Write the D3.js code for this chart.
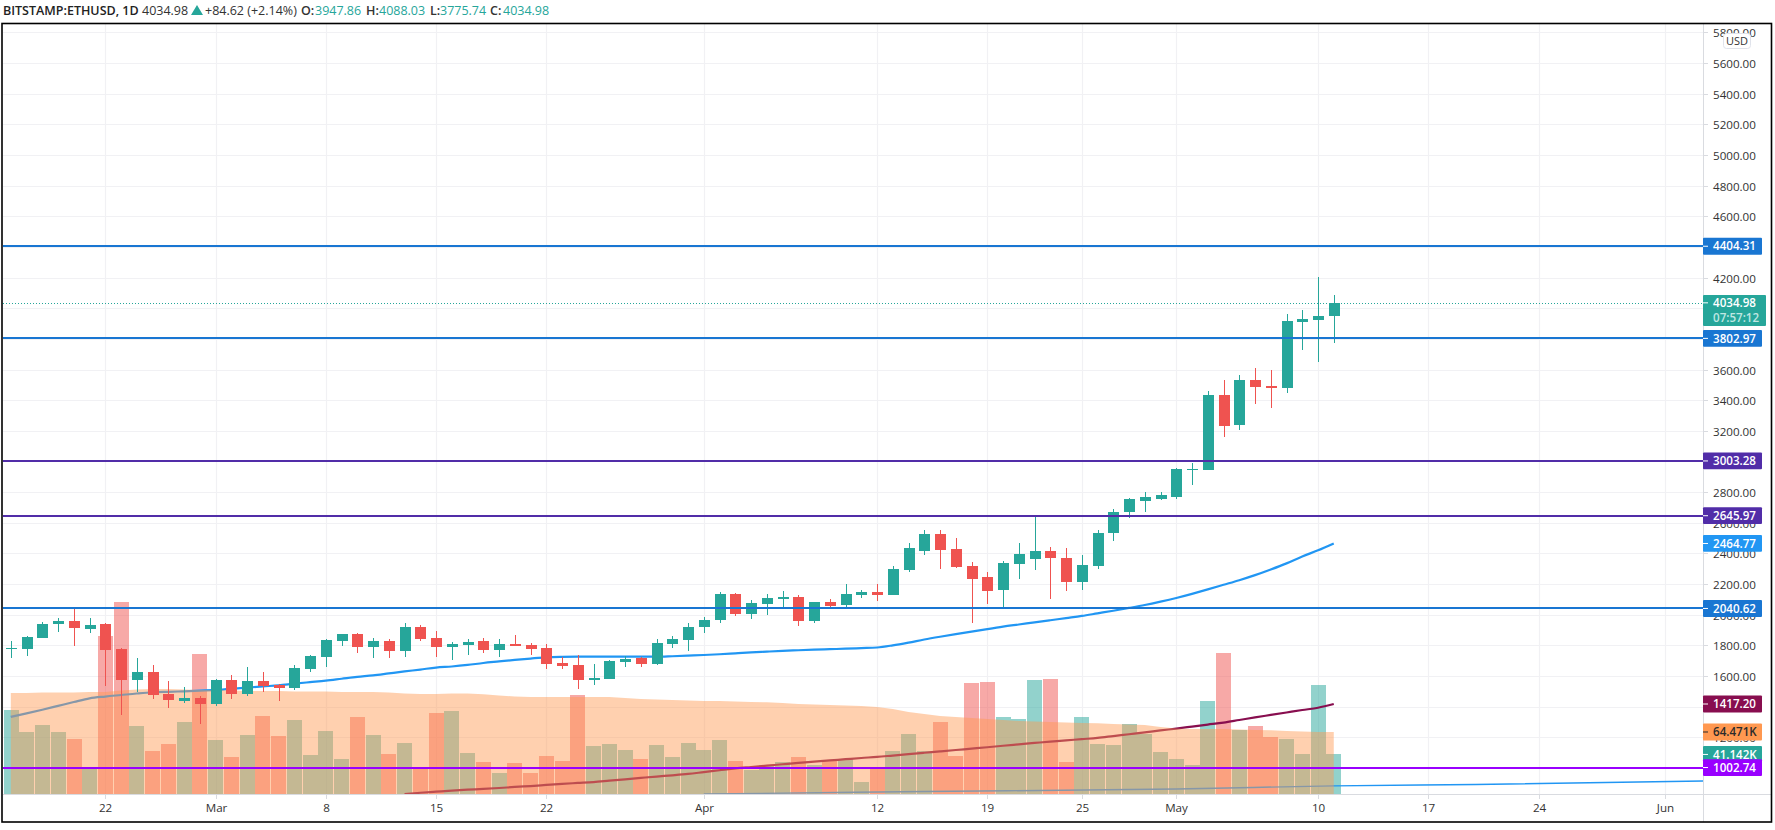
<!DOCTYPE html>
<html><head><meta charset="utf-8">
<script src="https://cdnjs.cloudflare.com/ajax/libs/d3/7.8.5/d3.min.js"></script>
<style>html,body{margin:0;padding:0;background:#fff;overflow:hidden}svg{display:block}text{font-family:"Open Sans",Roboto,sans-serif}</style>
</head><body><svg id="c" width="1775" height="830"></svg>
<script>
const firstDay = "2021-02-16";
const opens = [1778,1776,1848,1939,1959,1907,1939,1776,1574,1626,1483,1437,1457,1417,1574,1483,1568,1541,1522,1646,1724,1829,1874,1789,1829,1763,1920,1848,
1789,1802,1829,1770,1809,1802,1783,1685,1672,1574,1581,1692,1718,1678,1809,1835,1920,1966,2135,2005,2070,2103,2116,1959,2083,2063,2129,2148,2129,
2292,2414,2525,2429,2318,2246,2161,2331,2362,2414,2370,2213,2318,2532,2672,2745,2755,2768,2948,2944,3434,3238,3532,3492,3479,3910,3923,3947.86];
const closes = [1783,1855,1939,1959,1913,1933,1770,1574,1626,1476,1444,1457,1417,1574,1483,1568,1535,1522,1652,1731,1835,1874,1789,1829,1763,1920,1842,1789,
1809,1822,1770,1809,1796,1776,1678,1665,1574,1587,1698,1711,1678,1815,1842,1920,1966,2135,2005,2077,2109,2116,1959,2083,2057,2135,2148,2129,2298,
2436,2525,2421,2311,2233,2155,2337,2399,2414,2370,2213,2324,2532,2672,2754,2768,2781,2951,2953,3434,3231,3532,3486,3479,3917,3930,3949,4034.98];
const highs = [1829,1861,1953,1979,2044,1979,1945,1783,1718,1672,1568,1528,1470,1580,1607,1659,1626,1548,1672,1737,1842,1876,1881,1848,1842,1946,1933,1894,
1822,1842,1848,1842,1868,1815,1809,1724,1737,1678,1705,1731,1724,1842,1861,1946,1985,2148,2142,2096,2135,2155,2129,2083,2103,2200,2161,2200,2318,
2466,2554,2554,2503,2344,2279,2350,2466,2636,2444,2436,2392,2554,2687,2761,2801,2801,2957,2990,3460,3532,3564,3610,3597,3962,3988,4204,4088.03];
const lows = [1718,1731,1848,1887,1796,1881,1535,1346,1496,1450,1391,1424,1287,1404,1450,1470,1496,1437,1509,1626,1659,1796,1750,1718,1718,1724,1829,1724,
1705,1737,1750,1724,1796,1737,1646,1646,1515,1541,1581,1659,1659,1672,1783,1763,1881,1946,1992,1972,1998,2050,1926,1946,2044,2044,2109,2090,2129,
2279,2392,2298,2305,1946,2070,2050,2233,2292,2103,2155,2161,2298,2480,2628,2672,2749,2755,2846,2944,3160,3205,3375,3349,3447,3727,3649,3775.74];
const volumesK = [87.4,64.5,71.8,64.5,57.2,26,164.3,199.7,70.7,44.7,52,74.9,145.6,56.2,38.5,61.4,81.1,60.3,77,40.6,65.5,36.4,80.1,61.4,41.6,53,27,84.2,86.3,42.6,
33.3,21.8,32.2,21.8,39.5,34.3,103,49.9,52,45.8,36.4,51,38.5,53,45.8,56.2,34.3,25,30.2,33.3,38.5,30.2,34.3,36.4,12.5,27,44.7,62.4,44.7,74.9,
39.5,115.4,116.5,80.1,78,118.6,119.6,33.3,80.1,52,51,72.8,62.4,43.7,36.4,30.2,96.7,146.6,66.6,70.7,59.3,57.2,41.6,113.4,41.142];
const volumeAvgK = [105,105,105.6,105.6,105.6,106,106,107.6,108.7,109.2,109.2,108.7,108.2,108.2,107.6,107.1,107.1,107.1,106.6,106.6,
106.6,106,106,106,105.6,104.5,104,104,104.5,104.5,103.7,102.4,101.4,100.9,100.9,100.9,100.9,100.9,100.9,99.8,
98.8,98.3,97.8,97.2,96.7,96.7,96.2,95.7,95.4,94.6,93.6,93.1,92.6,92,91.5,90.5,88.4,85.3,83.2,81.1,
80.1,79,78,77,75.9,75.4,74.9,74.4,73.8,73.5,72.8,72.3,71.8,69.7,68.1,67.6,67.6,67.6,67.1,66.6,66.2,65.5,65,64.5,64.471];
const blueAvg = [1333,1356,1380,1405,1430,1454,1466,1476,1486,1494,1497,1500,1504,1509,1516,1524,1532,1539,1550,1560,1570,1582,1594,1604,1617,1630,1642,1655,
1662,1672,1685,1695,1705,1714,1722,1725,1726,1726,1726,1726,1726,1726,1729,1733,1737,1742,1748,1754,1759,1764,1768,1772,1775,1778,1782,1786,1800,
1818,1838,1856,1873,1889,1906,1922,1936,1950,1964,1978,1992,2009,2026,2044,2063,2085,2109,2136,2165,2195,2225,2258,2295,2335,2380,2420,2464.77];
const maroonStart = 25;
const maroonAvg = [830,838,845,852,858,863,869,876,882,889,896,902,908,917,926,935,944,952,961,973,985,997,1006,1015,1024,1033,1041,1049,1057,1065,1072,1081,1090,1099,1108,1117,1126,1135,1145,1154,1163,1172,1180,1188,1196,1208,1220,1232,1245,1257,1270,1283,1296,1313,1330,1346,1362,1378,1393,1417.2];
const lightAvgDays = ["2021-04-01","2021-04-15","2021-05-01","2021-05-11","2021-05-20","2021-06-08"];
const lightAvg = [830,846,863,883,892,922];
const levelValues = [4404.31,3802.97,3003.28,2645.97,2040.62,1002.74];
const levelColors = ["#1976d2","#1976d2","#512da8","#512da8","#1976d2","#9900ff"];
const priceTicks = [5800,5600,5400,5200,5000,4800,4600,4400,4200,4000,3800,3600,3400,3200,3000,2800,2600,2400,2200,2000,1800,1600,1400,1200,1000];
const coveredPriceLabels = [4400,4000,3800,3000,1400,1000];
const timeTickDays = ["2021-02-22","2021-03-01","2021-03-08","2021-03-15","2021-03-22","2021-04-01","2021-04-12","2021-04-19","2021-04-25","2021-05-01","2021-05-10","2021-05-17","2021-05-24","2021-06-01"];
const timeTickLabels = ["22","Mar","8","15","22","Apr","12","19","25","May","10","17","24","Jun"];

const UP="#26a69a", DOWN="#ef5350", GRID="#f1f1f4", AXIS="#d9dbe0", TXT="#333";
const L=3,R=1703,T=24,B=794;
const parse=d3.utcParse("%Y-%m-%d");
const days=opens.map((_,i)=>d3.utcDay.offset(parse(firstDay),i));
const x=d3.scaleUtc().domain([parse("2021-02-22"),parse("2021-06-01")]).range([105.3,1664.5]);
const y=d3.scaleLinear().domain([1600,5600]).range([676,63]);
const v=d3.scaleLinear().domain([0,100]).range([B,B-96.17]);
const svg=d3.select("#c");
svg.append("defs").append("clipPath").attr("id","pane").append("rect").attr("x",L).attr("y",T).attr("width",R-L).attr("height",B-T);

// grid
svg.append("g").selectAll("line").data(priceTicks).join("line")
 .attr("x1",L).attr("x2",R).attr("y1",d=>Math.round(y(d))+.5).attr("y2",d=>Math.round(y(d))+.5).attr("stroke",GRID).attr("stroke-width",1.2);
svg.append("g").selectAll("line").data(timeTickDays).join("line")
 .attr("x1",d=>Math.round(x(parse(d)))+.5).attr("x2",d=>Math.round(x(parse(d)))+.5).attr("y1",T).attr("y2",B).attr("stroke",GRID).attr("stroke-width",1.2);

const pane=svg.append("g").attr("clip-path","url(#pane)");
// volume
pane.append("g").selectAll("rect").data(volumesK).join("rect")
 .attr("x",(d,i)=>Math.round(x(days[i])-7.3)).attr("width",14.6).attr("y",d=>v(d)).attr("height",d=>B-v(d))
 .attr("fill",(d,i)=>closes[i]>=opens[i]?UP:DOWN).attr("fill-opacity",.5).attr("shape-rendering","crispEdges");
// averages
const lineGen=d3.line().x(d=>x(d[0])).y(d=>y(d[1])).curve(d3.curveMonotoneX);
pane.append("path").attr("d",lineGen(lightAvg.map((p,i)=>[parse(lightAvgDays[i]),p]))).attr("fill","none").attr("stroke","#2196f3").attr("stroke-width",1.4);
pane.append("path").attr("d",lineGen(maroonAvg.map((p,i)=>[days[i+maroonStart],p]))).attr("fill","none").attr("stroke","#880e4f").attr("stroke-width",2.2);
pane.append("path").attr("d",lineGen(blueAvg.map((p,i)=>[days[i],p]))).attr("fill","none").attr("stroke","#2196f3").attr("stroke-width",2.2);
// volume average area
pane.append("path").attr("d",d3.area().x((d,i)=>x(days[i])).y0(B).y1(d=>v(d))(volumeAvgK)).attr("fill","#ff9850").attr("fill-opacity",.46);
// candles
const cg=pane.append("g").attr("shape-rendering","crispEdges");
cg.selectAll("rect.w").data(opens).join("rect").attr("class","w")
 .attr("x",(d,i)=>Math.round(x(days[i]))).attr("width",1).attr("y",(d,i)=>y(highs[i])).attr("height",(d,i)=>y(lows[i])-y(highs[i]))
 .attr("fill",(d,i)=>closes[i]>=d?UP:DOWN);
cg.selectAll("rect.b").data(opens).join("rect").attr("class","b")
 .attr("x",(d,i)=>Math.round(x(days[i]))-5).attr("width",11).attr("y",(d,i)=>y(Math.max(d,closes[i])))
 .attr("height",(d,i)=>Math.max(1.5,Math.abs(y(d)-y(closes[i]))))
 .attr("fill",(d,i)=>closes[i]>=d?UP:DOWN);
// levels
pane.append("line").attr("x1",L).attr("x2",R).attr("y1",Math.round(y(4034.98))+.5).attr("y2",Math.round(y(4034.98))+.5).attr("stroke",UP).attr("stroke-width",1).attr("stroke-dasharray","1 2");
pane.append("g").attr("shape-rendering","crispEdges").selectAll("line").data(levelValues).join("line").attr("x1",L).attr("x2",R).attr("y1",d=>Math.round(y(d))).attr("y2",d=>Math.round(y(d)))
 .attr("stroke",(d,i)=>levelColors[i]).attr("stroke-width",2);

// axes lines
svg.append("line").attr("x1",R+.5).attr("x2",R+.5).attr("y1",T).attr("y2",822).attr("stroke",AXIS);
svg.append("line").attr("x1",L).attr("x2",1771).attr("y1",B+.5).attr("y2",B+.5).attr("stroke",AXIS);
// price axis
const pa=svg.append("g").selectAll("g").data(priceTicks).join("g").attr("transform",d=>`translate(0,${Math.round(y(d))+.5})`);
pa.append("line").attr("x1",R).attr("x2",R+5).attr("stroke",AXIS);
pa.filter(d=>!coveredPriceLabels.includes(d)).append("text").attr("x",1713).attr("dy","0.36em").attr("font-size",11.6).attr("fill",TXT).text(d=>d3.format(".2f")(d));
// time axis
const ta=svg.append("g").selectAll("g").data(timeTickDays).join("g").attr("transform",d=>`translate(${Math.round(x(parse(d)))+.5},${B})`);
ta.append("line").attr("y1",0).attr("y2",5).attr("stroke",AXIS);
ta.append("text").attr("y",14).attr("dy","0.36em").attr("text-anchor","middle").attr("font-size",11.6).attr("fill",TXT).text((d,i)=>timeTickLabels[i]);

// price tags
function tag(val,yy,bg,fg,w){
 const g=svg.append("g");
 g.append("rect").attr("x",R).attr("y",yy-8.4).attr("width",w||59).attr("height",16.8).attr("rx",1).attr("fill",bg);
 g.append("line").attr("x1",R).attr("x2",R+5).attr("y1",yy).attr("y2",yy).attr("stroke",fg);
 g.append("text").attr("x",1713).attr("y",yy).attr("dy","0.36em").attr("font-size",11.6).attr("font-weight",600).attr("fill",fg).text(val);
}
tag("2464.77",y(2464.77),"#2196f3","#fff");
levelValues.forEach((d,i)=>{ if(d>1100) tag(d3.format(".2f")(d),y(d),levelColors[i],"#fff"); });
tag("1417.20",y(1417.2),"#880e4f","#fff");
tag("64.471K",v(64.471),"#ff9850","#2b2b2b");
tag("41.142K",v(41.142),UP,"#fff");
tag("1002.74",y(1002.74),"#9900ff","#fff");
// last price tag
svg.append("rect").attr("x",R).attr("y",295).attr("width",63).attr("height",31).attr("rx",1).attr("fill",UP);
svg.append("line").attr("x1",R).attr("x2",R+5).attr("y1",y(4034.98)).attr("y2",y(4034.98)).attr("stroke","#fff");
svg.append("text").attr("x",1713).attr("y",y(4034.98)).attr("dy","0.36em").attr("font-size",11.6).attr("font-weight",600).attr("fill","#fff").text("4034.98");
svg.append("text").attr("x",1713).attr("y",317.5).attr("dy","0.36em").attr("font-size",11.6).attr("font-weight",600).attr("fill","#bfe6e2").text("07:57:12");
// currency badge
svg.append("rect").attr("x",1723.5).attr("y",33.5).attr("width",27).attr("height",15).attr("rx",3).attr("fill","#fff").attr("stroke","#e0e3eb");
svg.append("text").attr("x",1737).attr("y",41).attr("dy","0.36em").attr("text-anchor","middle").attr("font-size",11).attr("fill",TXT).text("USD");

// frame
svg.append("rect").attr("x",2).attr("y",23.5).attr("width",1769.5).attr("height",798.5).attr("fill","none").attr("stroke","#000").attr("stroke-width",1.6);

// legend
const lg=svg.append("g").attr("font-size",12.5);
const seg=(t,xx,c,b)=>lg.append("text").attr("x",xx).attr("y",10).attr("dy","0.36em").attr("fill",c).attr("font-weight",b?600:400).text(t);
const VAL="#26a69a";
seg("BITSTAMP:ETHUSD, 1D",3,"#222",1);
seg("4034.98",142,"#333");
lg.append("path").attr("d",d3.line()([[191,15],[197,5],[203,15]])+"Z").attr("fill",VAL);
seg("+84.62 (+2.14%)",205,"#333");
seg("O:",301,"#333",1); seg("3947.86",315,VAL);
seg("H:",366,"#333",1); seg("4088.03",379,VAL);
seg("L:",430,"#333",1); seg("3775.74",440,VAL);
seg("C:",490,"#333",1); seg("4034.98",503,VAL);
</script></body></html>
